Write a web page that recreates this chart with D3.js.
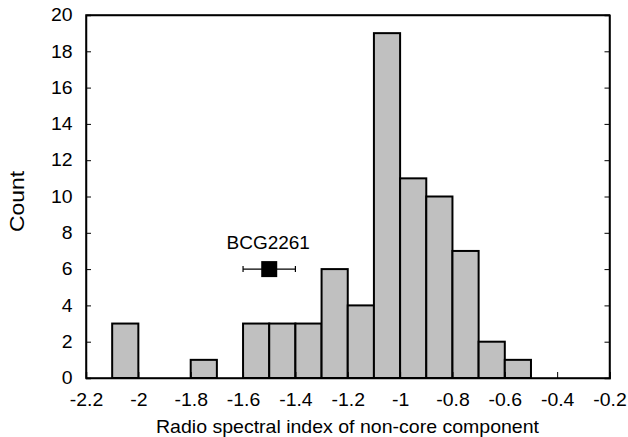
<!DOCTYPE html>
<html>
<head>
<meta charset="utf-8">
<script src="https://cdn.jsdelivr.net/npm/d3@7"></script>
<style>
  html, body { margin: 0; padding: 0; background: #fff; }
  svg text { font-family: "Liberation Sans", Arial, sans-serif; fill: #000; }
</style>
</head>
<body>
<svg id="chart" width="628" height="437"></svg>
<script>
// Histogram bins: left edge of each 0.1-wide bin and its count
const binStarts = [-2.1, -1.8, -1.6, -1.5, -1.4, -1.3, -1.2, -1.1, -1.0, -0.9, -0.8, -0.7, -0.6];
const binCounts = [3, 1, 3, 3, 3, 6, 4, 19, 11, 10, 7, 2, 1];
const binWidth = 0.1;

// Highlighted source
const pointLabel = ["BCG2261"];
const pointX = [-1.5];
const pointY = [6];
const pointErr = [0.1];

// Tick labels
const xTicks = [-2.2, -2, -1.8, -1.6, -1.4, -1.2, -1, -0.8, -0.6, -0.4, -0.2];
const yTicks = [0, 2, 4, 6, 8, 10, 12, 14, 16, 18, 20];

const svg = d3.select("#chart");
const W = 628, H = 437;
const m = { left: 86, right: W - 609.5, top: 15, bottom: H - 378 };

const x = d3.scaleLinear().domain([-2.2, -0.2]).range([m.left, W - m.right]);
const y = d3.scaleLinear().domain([0, 20]).range([H - m.bottom, m.top]);

// Bars
svg.append("g").selectAll("rect")
  .data(binStarts.map((s, i) => ({ s, c: binCounts[i] })))
  .join("rect")
  .attr("x", d => x(d.s))
  .attr("y", d => y(d.c))
  .attr("width", d => x(d.s + binWidth) - x(d.s))
  .attr("height", d => y(0) - y(d.c))
  .attr("fill", "#c0c0c0")
  .attr("stroke", "#000")
  .attr("stroke-width", 2);

// Axes with inward ticks; labels slightly widened
const fmt = d => String(d);
const xAxis = svg.append("g").attr("transform", `translate(0,${y(0)})`)
  .call(d3.axisBottom(x).tickValues(xTicks).tickSize(-6).tickFormat(fmt));
const xTop = svg.append("g").attr("transform", `translate(0,${y(20)})`)
  .call(d3.axisTop(x).tickValues(xTicks).tickSize(0).tickFormat(""));
const yAxis = svg.append("g").attr("transform", `translate(${x(-2.2)},0)`)
  .call(d3.axisLeft(y).tickValues(yTicks).tickSize(-5).tickPadding(12.5).tickFormat(fmt));
const yRight = svg.append("g").attr("transform", `translate(${x(-0.2)},0)`)
  .call(d3.axisRight(y).tickValues(yTicks).tickSize(-5).tickFormat(""));

[xAxis, xTop, yAxis, yRight].forEach(g => {
  g.select(".domain").attr("stroke", "#000").attr("stroke-width", 1.5);
  g.selectAll(".tick line").attr("stroke", "#000").attr("stroke-width", 1);
  g.selectAll(".tick text").attr("font-size", 18).attr("fill", "#000")
    .attr("transform", "scale(1.08,1)");
});
xAxis.selectAll(".tick text").attr("y", 28).attr("dy", 0);

// Plot frame
svg.append("rect")
  .attr("x", x(-2.2)).attr("y", y(20))
  .attr("width", x(-0.2) - x(-2.2)).attr("height", y(0) - y(20))
  .attr("fill", "none").attr("stroke", "#000").attr("stroke-width", 1.5);

// Highlighted point with horizontal error bar
const pg = svg.append("g");
pointX.forEach((px, i) => {
  const cy = y(pointY[i]);
  const x0 = x(px - pointErr[i]), x1 = x(px + pointErr[i]);
  pg.append("line").attr("x1", x0).attr("x2", x1).attr("y1", cy).attr("y2", cy)
    .attr("stroke", "#000").attr("stroke-width", 1.2);
  [x0, x1].forEach(ex => pg.append("line").attr("x1", ex).attr("x2", ex)
    .attr("y1", cy - 3).attr("y2", cy + 3).attr("stroke", "#000").attr("stroke-width", 1.2));
  pg.append("rect").attr("x", x(px) - 8).attr("y", cy - 8).attr("width", 16).attr("height", 16)
    .attr("fill", "#000");
  pg.append("text").attr("x", x(px) - 1).attr("y", cy - 20)
    .attr("text-anchor", "middle").attr("font-size", 19).text(pointLabel[i]);
});

// Axis titles
svg.append("text").attr("x", 156).attr("y", 433)
  .attr("font-size", 18.5)
  .attr("textLength", 383).attr("lengthAdjust", "spacingAndGlyphs")
  .text("Radio spectral index of non-core component");
svg.append("text").attr("transform", "translate(24,232) rotate(-90)")
  .attr("font-size", 19.5)
  .attr("textLength", 61).attr("lengthAdjust", "spacingAndGlyphs")
  .text("Count");
</script>
</body>
</html>
